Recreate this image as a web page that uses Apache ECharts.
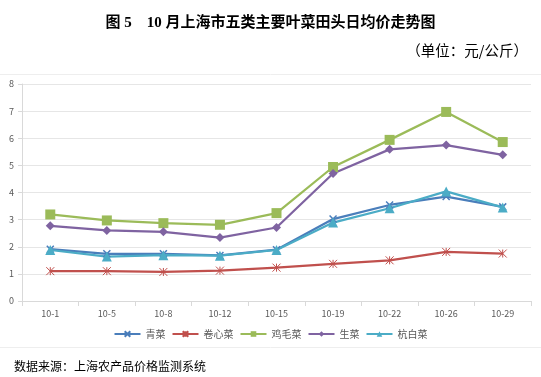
<!DOCTYPE html>
<html>
<head>
<meta charset="utf-8">
<script src="https://cdn.jsdelivr.net/npm/echarts@6/dist/echarts.min.js"></script>
<style>
  html, body { margin: 0; padding: 0; background: #fff; }
  #chart { width: 541px; height: 377px; }
</style>
</head>
<body>
<div id="chart"></div>
<script>
// 日期
const dates = ['10-1', '10-5', '10-8', '10-12', '10-15', '10-19', '10-22', '10-26', '10-29'];

// 各类叶菜田头日均价（元/公斤）
const qingcai = [1.91, 1.74, 1.74, 1.68, 1.89, 3.02, 3.54, 3.85, 3.47];
const juanxincai = [1.10, 1.10, 1.07, 1.12, 1.23, 1.37, 1.50, 1.81, 1.75];
const jimaocai = [3.19, 2.97, 2.87, 2.81, 3.24, 4.94, 5.94, 6.97, 5.86];
const shengcai = [2.77, 2.60, 2.55, 2.34, 2.71, 4.70, 5.59, 5.75, 5.39];
const hangbaicai = [1.88, 1.64, 1.69, 1.67, 1.88, 2.89, 3.42, 4.04, 3.45];

const crossPath = 'path://M0,0L10,10M10,0L0,10';
const starPath = 'path://M0,0L10,10M10,0L0,10M5,0L5,10';

const chart = echarts.init(document.getElementById('chart'));

function makeSeries(name, data, color, symbol, size, extra) {
  return Object.assign({
    name: name,
    type: 'line',
    data: data,
    symbol: symbol,
    symbolSize: size,
    showAllSymbol: true,
    lineStyle: { color: color, width: 2.25 },
    itemStyle: { color: color },
    z: 2
  }, extra || {});
}

const option = {
  animation: false,
  textStyle: { fontFamily: 'Noto Sans CJK SC' },
  title: [
    {
      text: '图 5　10 月上海市五类主要叶菜田头日均价走势图',
      left: 'center',
      top: 11,
      textStyle: { fontSize: 15, fontWeight: 'bold', color: '#000', fontFamily: 'Liberation Serif, Noto Sans CJK SC' }
    },
    {
      text: '（单位：元/公斤）',
      right: 8,
      top: 38,
      textStyle: { fontSize: 14.5, fontWeight: 'normal', color: '#000' }
    },
    {
      text: '数据来源：上海农产品价格监测系统',
      left: 9,
      top: 355,
      textStyle: { fontSize: 12, fontWeight: 'normal', color: '#000' }
    }
  ],
  graphic: [
    { type: 'line', shape: { x1: 0, y1: 74.5, x2: 541, y2: 74.5 }, style: { stroke: '#eeeeee', lineWidth: 1 } },
    { type: 'line', shape: { x1: 0, y1: 347.5, x2: 541, y2: 347.5 }, style: { stroke: '#eeeeee', lineWidth: 1 } }
  ],
  legend: {
    bottom: 33,
    left: 'center',
    itemWidth: 26,
    itemHeight: 7,
    itemGap: 6,
    textStyle: { fontSize: 10, color: '#595959' },
    data: ['青菜', '卷心菜', '鸡毛菜', '生菜', '杭白菜']
  },
  grid: { left: 22, right: 10, top: 84, bottom: 76 },
  xAxis: {
    type: 'category',
    data: dates,
    boundaryGap: true,
    axisLine: { lineStyle: { color: '#d9d9d9' } },
    axisTick: { show: true, length: 5, lineStyle: { color: '#d9d9d9' } },
    axisLabel: { color: '#595959', fontSize: 9, margin: 8 }
  },
  yAxis: {
    type: 'value',
    min: 0,
    max: 8,
    interval: 1,
    axisLine: { show: true, lineStyle: { color: '#d9d9d9' } },
    axisTick: { show: true, length: 4, lineStyle: { color: '#d9d9d9' } },
    axisLabel: { color: '#595959', fontSize: 9, margin: 8 },
    splitLine: { lineStyle: { color: '#e6e6e6' } }
  },
  series: [
    makeSeries('青菜', qingcai, '#4a7ebb', crossPath, 7, { itemStyle: { color: '#4a7ebb', borderColor: '#4a7ebb', borderWidth: 1.5 } }),
    makeSeries('卷心菜', juanxincai, '#c0504d', starPath, 8, { itemStyle: { color: '#c0504d', borderColor: '#c0504d', borderWidth: 1 } }),
    makeSeries('鸡毛菜', jimaocai, '#9bbb59', 'rect', 10),
    makeSeries('生菜', shengcai, '#7f63a1', 'diamond', 9),
    makeSeries('杭白菜', hangbaicai, '#4bacc6', 'triangle', 10)
  ]
};

chart.setOption(option);
</script>
</body>
</html>
